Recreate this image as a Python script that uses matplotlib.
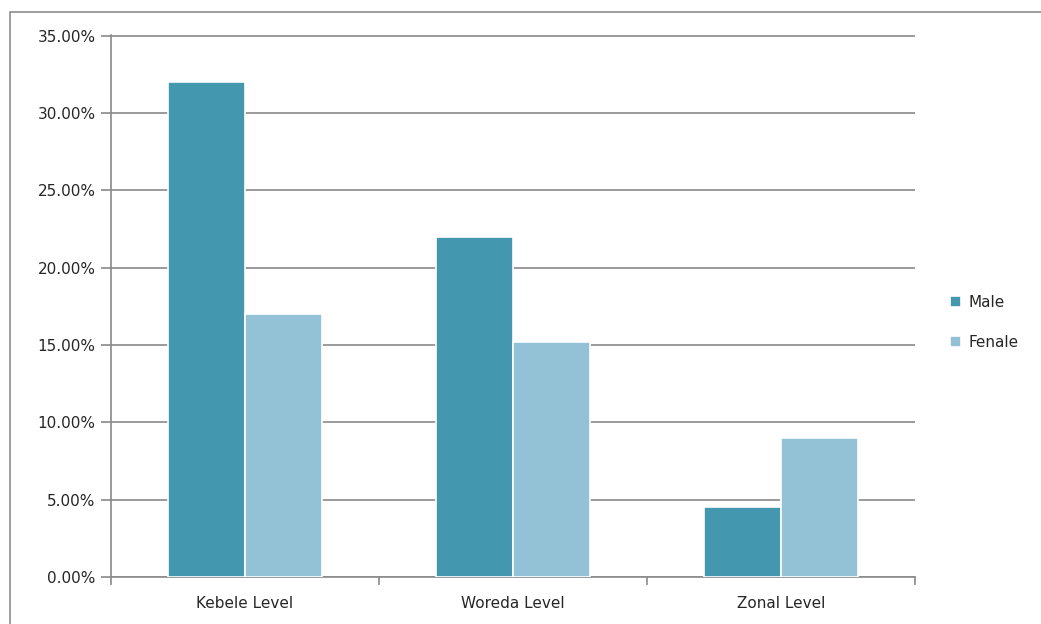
import matplotlib.pyplot as plt
from matplotlib.patches import Rectangle
import numpy as np

categories = ["Kebele Level", "Woreda Level", "Zonal Level"]
male = [32.0, 22.0, 4.5]
female = [17.0, 15.2, 9.0]
yticks = [0, 5, 10, 15, 20, 25, 30, 35]

plt.rcParams['font.family'] = ['DejaVu Sans']
plt.rcParams['font.size'] = 11

fig = plt.figure(figsize=(10.41, 6.24), dpi=100)
fig.patches.append(Rectangle((10/1041, -0.1), 1.2, 1 - 12/624 + 0.1, transform=fig.transFigure,
                             fill=False, edgecolor='#8c8c8c', linewidth=1.2))
ax = fig.add_axes([111/1041, 1 - 577/624, 804/1041, 542/624])

x = np.arange(len(categories))
w = 0.287
ax.bar(x - w/2, male, w, color='#4397ae', edgecolor='white', linewidth=1.2, label='Male', zorder=3)
ax.bar(x + w/2, female, w, color='#93c1d5', edgecolor='white', linewidth=1.2, label='Fenale', zorder=3)

ax.set_xlim(-0.5, 2.5)
ax.set_ylim(0, 35.05)
ax.set_yticks(yticks)
ax.set_yticklabels(["%.2f%%" % v for v in yticks], color='#262626')
ax.yaxis.grid(True, color='#8a8a8a', linewidth=1.2, zorder=0)
ax.set_axisbelow(True)

ax.set_xticks(x)
ax.set_xticklabels(categories, color='#262626')
ax.set_xticks([-0.5, 0.5, 1.5, 2.5], minor=True)
ax.tick_params(axis='x', which='major', length=0, pad=14)
ax.tick_params(axis='x', which='minor', length=6, color='#8a8a8a', width=1.2)
ax.tick_params(axis='y', length=7, color='#8a8a8a', width=1.2, pad=4)

for s in ['top', 'right']:
    ax.spines[s].set_visible(False)
for s in ['left', 'bottom']:
    ax.spines[s].set_color('#8a8a8a')
    ax.spines[s].set_linewidth(1.2)

leg = ax.legend(loc='center left', bbox_to_anchor=(1.027, 0.47), frameon=False,
                handlelength=0.7, handleheight=0.7, handletextpad=0.45, labelspacing=1.65)
for t in leg.get_texts():
    t.set_color('#262626')

plt.savefig('out.png', dpi=100)
